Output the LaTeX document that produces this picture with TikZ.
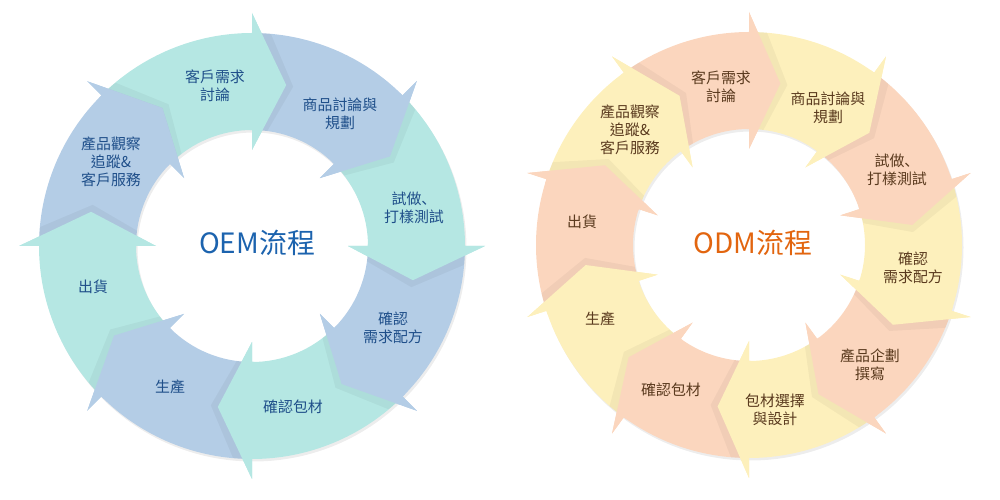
\documentclass[tikz,border=0pt]{standalone}
\usepackage{fontspec}
\setmainfont{Noto Sans CJK TC}
\newfontfamily\jpcomma{Noto Sans CJK JP}
\definecolor{oemteal}{HTML}{B5E7E3}
\definecolor{oemblue}{HTML}{B4CDE6}
\definecolor{oemtext}{HTML}{1F4F8A}
\definecolor{oemtitle}{HTML}{1C63AE}
\definecolor{odmpeach}{HTML}{FBD6BE}
\definecolor{odmyellow}{HTML}{FDF0BC}
\definecolor{odmtext}{HTML}{5A3A1E}
\definecolor{odmtitle}{HTML}{E2650F}
\tikzset{
  steplabel/.style={align=center, inner sep=0pt, font=\fontsize{11.2}{13.5}\selectfont},
  flowtitle/.style={inner sep=0pt, font=\fontsize{21}{24}\selectfont},
}
% ring of arrows: #1 centre, #2 span, #3 tip angle, #4 list of head angle/colour
\newcommand\flowring[4]{%
  \begin{scope}[shift={#1}]
    \fill[black,opacity=0.07,even odd rule,shift={(1.5,-2.5)}] (0,0) circle[radius=\Ro] (0,0) circle[radius=\Ri];
    \foreach \ang/\col in {#4}
      \fill[\col] ({\ang+#2}:\Ro) arc[start angle=\ang+#2, end angle=\ang, radius=\Ro] -- (\ang:\Rho) -- ({\ang-#3}:\Rm)
        -- (\ang:\Rhi) -- (\ang:\Ri) arc[start angle=\ang, end angle=\ang+#2, radius=\Ri] -- cycle;
    \begin{scope}[even odd rule]
      \clip (0,0) circle[radius=\Ro] (0,0) circle[radius=\Ri];
      \foreach \ang/\col in {#4}
        \fill[black,opacity=0.04,rotate=-2.5] (\ang:\Rho) -- ({\ang-#3}:\Rm) -- (\ang:\Rhi) -- cycle;
    \end{scope}
    \foreach \ang/\col in {#4}
      \fill[\col] (\ang:\Rho) -- ({\ang-#3}:\Rm) -- (\ang:\Rhi) -- (\ang:\Ri) -- ({\ang+1}:\Ri) -- ({\ang+1}:\Ro) -- (\ang:\Ro) -- cycle;
  \end{scope}}
\begin{document}
\begin{tikzpicture}[x=0.75pt,y=0.75pt]
  \def\Ro{159.75pt}\def\Ri{87pt}\def\Rm{123.4pt}
  \def\Rho{174.75pt}\def\Rhi{72pt}
  \useasboundingbox (0,0) rectangle (1000,500);

  % OEM
  \flowring{(252,254)}{45}{12}{90/oemteal,45/oemblue,0/oemteal,-45/oemblue,-90/oemteal,-135/oemblue,-180/oemteal,-225/oemblue}
  \begin{scope}[every node/.append style={text=oemtext}]
    \node[steplabel] (oem1) at (215,414) {客戶需求\\討論};
    \node[steplabel] (oem2) at (340,386) {商品討論與\\規劃};
    \node[steplabel] (oem3) at (414,292) {試做{\jpcomma 、}\\打樣測試};
    \node[steplabel] (oem4) at (393,172) {確認\\需求配方};
    \node[steplabel] (oem5) at (293,93) {確認包材};
    \node[steplabel] (oem6) at (170,113) {生產};
    \node[steplabel] (oem7) at (93,213) {出貨};
    \node[steplabel] (oem8) at (111,338) {產品觀察\\追蹤\&\\客戶服務};
  \end{scope}
  \node[flowtitle,text=oemtitle] (oemtitle) at (257,257) {OEM流程};

  % ODM
  \flowring{(749,255)}{36}{11}{90/odmpeach,54/odmyellow,18/odmpeach,-18/odmyellow,-54/odmpeach,-90/odmyellow,-126/odmpeach,-162/odmyellow,-198/odmpeach,-234/odmyellow}
  \begin{scope}[every node/.append style={text=odmtext}]
    \node[steplabel] (odm1) at (721,413) {客戶需求\\討論};
    \node[steplabel] (odm2) at (828,392) {商品討論與\\規劃};
    \node[steplabel] (odm3) at (897,330) {試做{\jpcomma 、}\\打樣測試};
    \node[steplabel] (odm4) at (913,232) {確認\\需求配方};
    \node[steplabel] (odm5) at (870,135) {產品企劃\\撰寫};
    \node[steplabel] (odm6) at (775,90) {包材選擇\\與設計};
    \node[steplabel] (odm7) at (671,110) {確認包材};
    \node[steplabel] (odm8) at (600,181) {生產};
    \node[steplabel] (odm9) at (582,278) {出貨};
    \node[steplabel] (odm10) at (630,370) {產品觀察\\追蹤\&\\客戶服務};
  \end{scope}
  \node[flowtitle,text=odmtitle] (odmtitle) at (753,257) {ODM流程};
\end{tikzpicture}
\end{document}
